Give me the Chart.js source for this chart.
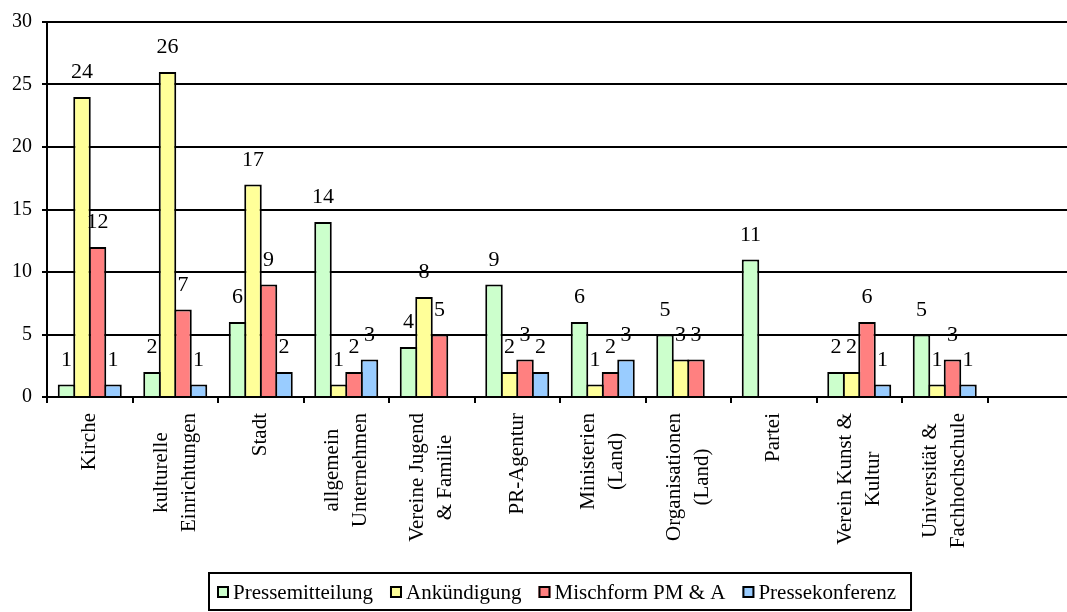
<!DOCTYPE html>
<html lang="de">
<head>
<meta charset="utf-8">
<title>Pressemitteilungen nach Absender</title>
<script src="https://cdn.jsdelivr.net/npm/chart.js@4.4.1/dist/chart.umd.min.js"></script>
<style>
  html, body { margin: 0; padding: 0; background: #fff; overflow: hidden; }
  #wrap { width: 1080px; height: 612px; }
</style>
</head>
<body>
<div id="wrap"><canvas id="chart" width="1080" height="612"></canvas></div>
<script>
// Absender-Kategorien (mehrzeilige Beschriftung); die letzte Spalte bleibt leer
const categories = [
  ['Kirche'],
  ['kulturelle', 'Einrichtungen'],
  ['Stadt'],
  ['allgemein', 'Unternehmen'],
  ['Vereine Jugend', '& Familie'],
  ['PR-Agentur'],
  ['Ministerien', '(Land)'],
  ['Organisationen', '(Land)'],
  ['Partei'],
  ['Verein Kunst &', 'Kultur'],
  ['Universität &', 'Fachhochschule'],
  ['']
];

const seriesNames = ['Pressemitteilung', 'Ankündigung', 'Mischform PM & A', 'Pressekonferenz'];

const pressemitteilung = [1, 2, 6, 14, 4, 9, 6, 5, 11, 2, 5];
const ankuendigung     = [24, 26, 17, 1, 8, 2, 1, 3, 0, 2, 1];
const mischform        = [12, 7, 9, 2, 5, 3, 2, 3, 0, 6, 3];
const pressekonferenz  = [1, 1, 2, 3, 0, 2, 3, 0, 0, 1, 1];

const yTicks = [0, 5, 10, 15, 20, 25, 30];

const SERIF = "'Liberation Serif', 'Times New Roman', serif";
const fills = ['#CCFFCC', '#FFFF99', '#FF8080', '#99CCFF'];

// Werte über den Balken
const valueLabels = {
  id: 'valueLabels',
  afterDatasetsDraw(chart) {
    const ctx = chart.ctx;
    ctx.save();
    ctx.font = '22px ' + SERIF;
    ctx.fillStyle = '#000';
    ctx.textAlign = 'center';
    ctx.textBaseline = 'alphabetic';
    chart.data.datasets.forEach((ds, di) => {
      chart.getDatasetMeta(di).data.forEach((bar, i) => {
        const v = ds.data[i];
        if (!v) return;
        ctx.fillText(String(v), bar.x, bar.y - 19);
      });
    });
    ctx.restore();
  }
};

// senkrechte, zentrierte Kategorienbeschriftung unter der x-Achse
const categoryLabels = {
  id: 'categoryLabels',
  afterDraw(chart) {
    const xs = chart.scales.x;
    const ctx = chart.ctx;
    ctx.save();
    ctx.font = '21px ' + SERIF;
    ctx.fillStyle = '#000';
    ctx.textAlign = 'center';
    ctx.textBaseline = 'middle';
    const top = xs.top + 16;
    const lineStep = 28;
    chart.data.labels.forEach((lines, i) => {
      const cx = xs.getPixelForValue(i);
      const w = Math.max(...lines.map(l => ctx.measureText(l).width));
      lines.forEach((line, j) => {
        const lx = cx + (j - (lines.length - 1) / 2) * lineStep;
        ctx.save();
        ctx.translate(lx, top + w / 2);
        ctx.rotate(-Math.PI / 2);
        ctx.fillText(line, 0, 0);
        ctx.restore();
      });
    });
    ctx.restore();
  }
};

// Legende mit Rahmen unter dem Diagramm
const boxedLegend = {
  id: 'boxedLegend',
  afterDraw(chart) {
    const ctx = chart.ctx;
    const area = chart.chartArea;
    ctx.save();
    ctx.font = '21px ' + SERIF;
    const mark = 12, textGap = 4, itemGap = 17, padL = 8, padR = 15;
    const names = chart.data.datasets.map(d => d.label);
    const widths = names.map(n => ctx.measureText(n).width);
    const content = widths.reduce((a, w) => a + mark + textGap + w, 0) + itemGap * (widths.length - 1);
    const boxW = content + padL + padR;
    const boxL = Math.round((area.left + area.right) / 2 - boxW / 2);
    const boxT = 573, boxB = 610;
    ctx.strokeStyle = '#000';
    ctx.lineWidth = 2;
    ctx.strokeRect(boxL, boxT, boxW, boxB - boxT);
    let x = boxL + padL;
    const midY = 592;
    ctx.textBaseline = 'alphabetic';
    ctx.textAlign = 'left';
    names.forEach((n, i) => {
      ctx.fillStyle = chart.data.datasets[i].backgroundColor;
      ctx.fillRect(x, midY - mark / 2, mark, mark);
      ctx.lineWidth = 2;
      ctx.strokeStyle = '#000';
      ctx.strokeRect(x + 1, midY - mark / 2 + 1, mark - 2, mark - 2);
      ctx.fillStyle = '#000';
      ctx.fillText(n, x + mark + textGap, 599);
      x += mark + textGap + widths[i] + itemGap;
    });
    ctx.restore();
  }
};

const seriesData = [pressemitteilung, ankuendigung, mischform, pressekonferenz];

new Chart(document.getElementById('chart'), {
  type: 'bar',
  data: {
    labels: categories,
    datasets: seriesNames.map((name, i) => ({
      label: name,
      data: seriesData[i],
      backgroundColor: fills[i],
      borderColor: '#000',
      borderWidth: 2,
      categoryPercentage: 0.725,
      barPercentage: 1.13
    }))
  },
  options: {
    responsive: false,
    animation: false,
    devicePixelRatio: 1,
    events: [],
    layout: { padding: { top: 20, right: 7, bottom: 0, left: 0 } },
    plugins: {
      legend: { display: false },
      tooltip: { enabled: false }
    },
    scales: {
      x: {
        offset: true,
        grid: {
          offset: true,
          drawOnChartArea: false,
          drawTicks: true,
          tickLength: 6,
          color: '#000',
          lineWidth: 2
        },
        border: { display: true, color: '#000', width: 2 },
        ticks: { display: false },
        afterFit(scale) { scale.height = 215; }
      },
      y: {
        min: 0,
        max: 30,
        afterBuildTicks(scale) { scale.ticks = yTicks.map(v => ({ value: v })); },
        grid: { color: '#000', lineWidth: 2, drawTicks: true, tickLength: 5 },
        border: { display: true, color: '#000', width: 2 },
        ticks: {
          color: '#000',
          padding: 10,
          font: { family: SERIF, size: 20 }
        },
        afterFit(scale) { scale.width = 47; }
      }
    }
  },
  plugins: [valueLabels, categoryLabels, boxedLegend]
});
</script>
</body>
</html>
